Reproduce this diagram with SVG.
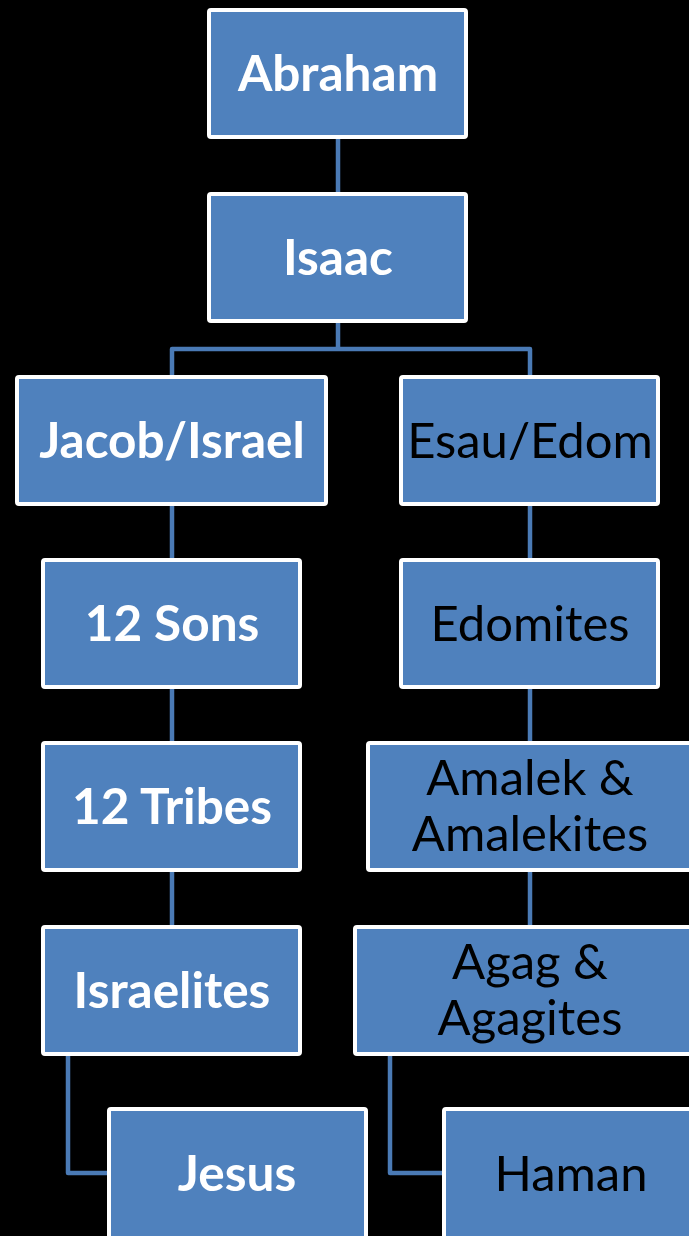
<svg xmlns="http://www.w3.org/2000/svg" width="689" height="1236" viewBox="0 0 689 1236">
<style>
.box{fill:#4f81bd;stroke:#ffffff;stroke-width:4}
.conn{fill:none;stroke:#4a7ab5;stroke-width:4.5;stroke-linejoin:round}
.tb{font-family:Lato,"Open Sans",sans-serif;font-weight:bold;font-size:49.5px;fill:#ffffff;text-anchor:middle}
.tn{font-family:Lato,"Open Sans",sans-serif;font-size:49px;fill:#000000;text-anchor:middle}
</style>
<rect width="689" height="1236" fill="#000000"/>
<g id="connectors">
<path class="conn" d="M338 139 V192"/>
<path class="conn" d="M338 323 V349 M172 375 V349 H530 V375"/>
<path class="conn" d="M172 506 V558 M172 689 V741 M172 872 V925"/>
<path class="conn" d="M530 506 V558 M530 689 V741 M530 872 V925"/>
<path class="conn" d="M68 1056 V1173 H107"/>
<path class="conn" d="M390 1056 V1173 H442"/>
</g>
<g id="abraham"><rect class="box" x="209" y="10" width="257" height="127" rx="2"/><text class="tb" x="338" y="91">Abraham</text></g>
<g id="isaac"><rect class="box" x="209" y="194" width="257" height="127" rx="2"/><text class="tb" x="338" y="275">Isaac</text></g>
<g id="jacob"><rect class="box" x="17" y="377" width="309" height="127" rx="2"/><text class="tb" x="172" y="458">Jacob/Israel</text></g>
<g id="esau"><rect class="box" x="401" y="377" width="257" height="127" rx="2"/><text class="tn" x="530" y="458">Esau/Edom</text></g>
<g id="sons"><rect class="box" x="43" y="560" width="257" height="127" rx="2"/><text class="tb" x="172" y="641">12 Sons</text></g>
<g id="edomites"><rect class="box" x="401" y="560" width="257" height="127" rx="2"/><text class="tn" x="530" y="641">Edomites</text></g>
<g id="tribes"><rect class="box" x="43" y="743" width="257" height="127" rx="2"/><text class="tb" x="172" y="824">12 Tribes</text></g>
<g id="amalek"><rect class="box" x="368" y="743" width="330" height="127" rx="2"/><text class="tn" x="530" y="795">Amalek &amp;</text><text class="tn" x="530" y="851">Amalekites</text></g>
<g id="israelites"><rect class="box" x="43" y="927" width="257" height="127" rx="2"/><text class="tb" x="172" y="1008">Israelites</text></g>
<g id="agag"><rect class="box" x="355" y="927" width="350" height="127" rx="2"/><text class="tn" x="530" y="979">Agag &amp;</text><text class="tn" x="530" y="1035">Agagites</text></g>
<g id="jesus"><rect class="box" x="109" y="1109" width="257" height="140" rx="2"/><text class="tb" x="237" y="1191">Jesus</text></g>
<g id="haman"><rect class="box" x="444" y="1109" width="257" height="140" rx="2"/><text class="tn" x="571" y="1191">Haman</text></g>
</svg>
